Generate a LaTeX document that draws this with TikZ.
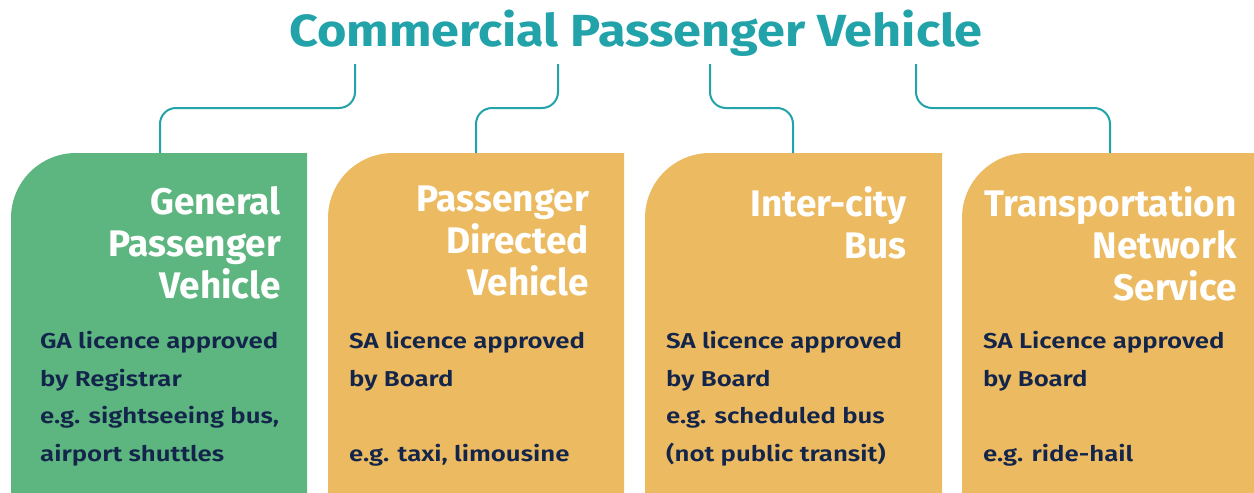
\documentclass[tikz,border=0pt]{standalone}
\usepackage{fontspec}
\setmainfont{Fira Sans}
\newfontfamily\bodyfont[FakeStretch=1.2]{Fira Sans SemiBold}
\newfontfamily\titlefont[FakeStretch=1.12]{Fira Sans Bold}
\definecolor{cpvteal}{HTML}{22A3AA}
\definecolor{cpvgreen}{HTML}{5DB67F}
\definecolor{cpvorange}{HTML}{ECBA60}
\definecolor{cpvnavy}{HTML}{13254A}
\tikzset{
  conn/.style={draw=cpvteal, line width=2pt, rounded corners=16pt},
  headtxt/.style={text=white, font=\fontsize{37}{42}\selectfont\bfseries, align=right, inner sep=0pt, anchor=north east},
  bodytxt/.style={text=cpvnavy, font=\bodyfont\fontsize{21.5}{37.7}\selectfont, align=left, inner sep=0pt, anchor=north west},
  titletxt/.style={text=cpvteal, font=\titlefont\fontsize{45}{50}\selectfont, inner sep=0pt}
}
\begin{document}
\begin{tikzpicture}[x=1pt,y=-1pt]
\useasboundingbox (0,0) rectangle (1254,493);
% boxes
\fill[cpvgreen] (11,493) [rounded corners=65pt] -- (11,153) [sharp corners] -- (307,153) -- (307,493) -- cycle;
\fill[cpvorange] (328,493) [rounded corners=65pt] -- (328,153) [sharp corners] -- (624,153) -- (624,493) -- cycle;
\fill[cpvorange] (645,493) [rounded corners=65pt] -- (645,153) [sharp corners] -- (942,153) -- (942,493) -- cycle;
\fill[cpvorange] (962,493) [rounded corners=65pt] -- (962,153) [sharp corners] -- (1260,153) -- (1260,493) -- cycle;
% title
\node[titletxt] (title) at (636,33) {Commercial Passenger Vehicle};
% connector ends
\coordinate (t1) at (355,64);
\coordinate (t2) at (558,64);
\coordinate (t3) at (710,64);
\coordinate (t4) at (916,64);
\coordinate (b1) at (160,153);
\coordinate (b2) at (476,153);
\coordinate (b3) at (793,153);
\coordinate (b4) at (1110,153);
\draw[conn] (t1) |- (257,108) -| (b1);
\draw[conn] (t2) |- (517,108) -| (b2);
\draw[conn] (t3) |- (751,108) -| (b3);
\draw[conn] (t4) |- (1013,108) -| (b4);
% headings
\node[headtxt] (h1) at (281,186) {General\\Passenger\\Vehicle};
\node[headtxt] (h2) at (589,186) {Passenger\\Directed\\Vehicle};
\node[headtxt] (h3) at (907,186) {Inter-city\\Bus};
\node[headtxt] (h4) at (1237,186) {Transportation\\Network\\Service};
% body
\node[bodytxt] (d1) at (40,331) {GA licence approved\\by Registrar\\e.g. sightseeing bus,\\airport shuttles};
\node[bodytxt] (d2) at (349,331) {SA licence approved\\by Board\\\mbox{}\\e.g. taxi, limousine};
\node[bodytxt] (d3) at (666,331) {SA licence approved\\by Board\\e.g. scheduled bus\\(not public transit)};
\node[bodytxt] (d4) at (983,331) {SA Licence approved\\by Board\\\mbox{}\\e.g. ride-hail};
\end{tikzpicture}
\end{document}
